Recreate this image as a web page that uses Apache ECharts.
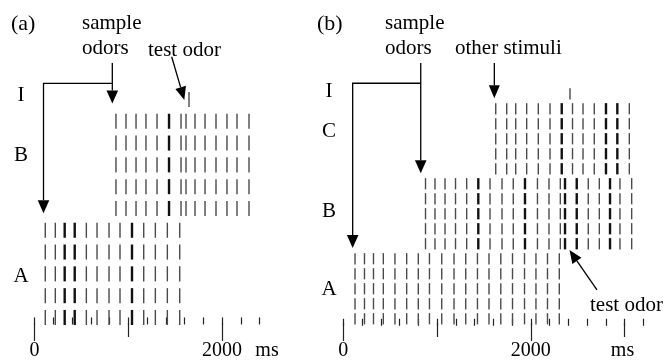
<!DOCTYPE html>
<html>
<head>
<meta charset="utf-8">
<script src="https://cdn.jsdelivr.net/npm/echarts@6/dist/echarts.min.js"></script>
<style>
html,body{margin:0;padding:0;background:#fff;}
#chart{width:665px;height:364px;}
</style>
</head>
<body>
<div id="chart"></div>
<script>
// ---------- DATA (spike times in ms, rows = trials) ----------
// Panel (a)
const aTimesA = [115, 222, 322, 429, 553, 667, 795, 912, 1040, 1165, 1289, 1417, 1549];
const aThickA = [322, 429, 1040];
const aRowsA  = [0, 1, 2, 3, 4];
const aTimesB = [869, 976, 1083, 1189, 1307, 1435, 1563, 1616, 1712, 1819, 1936, 2053, 2160, 2288];
const aThickB = [1435];
const aRowsB  = [5, 6, 7, 8, 9];
const aTimesI = [1648];
const aRowsI  = [10];
// Panel (b)
const bTimesA = [125, 226, 322, 427, 551, 676, 800, 919, 1050, 1181, 1306, 1431, 1554, 1680, 1805, 1933, 2055, 2178, 2304];
const bThickA = [];
const bRowsA  = [0, 1, 2, 3, 4];
const bTimesB = [877, 978, 1085, 1197, 1316, 1440, 1565, 1693, 1813, 1938, 2071, 2194, 2315, 2365, 2490, 2613, 2731, 2845, 2951, 3076];
const bThickB = [1440, 1938, 2365, 2490, 2845];
const bRowsB  = [5, 6, 7, 8, 9];
const bTimesC = [1626, 1743, 1839, 1956, 2080, 2205, 2330, 2445, 2557, 2677, 2802, 2923, 3051];
const bThickC = [2330, 2802, 2923];
const bRowsC  = [10, 11, 12, 13, 14];
const bTimesI = [2418];
const bRowsI  = [15];

// Axis ticks (ms)
const aMinorTicks = [0, 200, 400, 600, 800, 1000, 1200, 1400, 1600, 1800, 2000, 2200, 2400];
const aMidTicks   = [1000];
const aMajorTicks = [0, 2000];
const bMinorTicks = [0, 200, 400, 600, 800, 1000, 1200, 1400, 1600, 1800, 2000, 2200, 2400, 2600, 2800, 3000, 3200];
const bMidTicks   = [1000, 3000];
const bMajorTicks = [0, 2000];
const tickLabels  = [0, 2000];

// Block labels: [text, row position]
const aBlockLabels = [['I', 10.18], ['B', 7.43], ['A', 1.9]];
const bBlockLabels = [['I', 15.18], ['C', 12.48], ['B', 7.15], ['A', 1.92]];

// Annotation anchors in data coords [ms, row]
const aSample = {leftX: 96, rightX: 830, topRow: 11.67, cornerRow: 10.74, rightTipRow: 9.82, leftTipRow: 4.78};
const aTestTail = [1463, 11.96], aTestTip = [1598, 9.98];
const bSample = {leftX: 100, rightX: 826, topRow: 17.05, cornerRow: 15.7, rightTipRow: 9.70, leftTipRow: 4.72};
const bOtherTop = [1611, 17.05], bOtherTip = [1611, 14.70];
const bTestTail = [2706, 1.92], bTestTip = [2413, 4.58];

// ---------- build ----------
function build(blocks) {
  const out = [];
  blocks.forEach(([times, thick, rows]) => {
    rows.forEach(r => times.forEach(t => out.push([t, r, thick.indexOf(t) >= 0 ? 1 : 0])));
  });
  return out;
}
const dataA = build([[aTimesA, aThickA, aRowsA], [aTimesB, aThickB, aRowsB], [aTimesI, [], aRowsI]]);
const dataB = build([[bTimesA, bThickA, bRowsA], [bTimesB, bThickB, bRowsB], [bTimesC, bThickC, bRowsC], [bTimesI, [], bRowsI]]);

const FONT = '"Liberation Serif", "Times New Roman", serif';
function spikeRenderer(hRows) {
  return function (params, api) {
    const p = api.coord([api.value(0), api.value(1)]);
    const h = Math.abs(api.size([0, hRows])[1]);
    const thick = api.value(2) === 1;
    const w = thick ? 2.4 : 1.4;
    return {type: 'rect', shape: {x: p[0] - w / 2, y: p[1] - h / 2, width: w, height: h},
            style: {fill: thick ? '#111' : '#4a4a4a'}};
  };
}
function tickAxis(grid, max, values, len, offset, labels) {
  return {
    type: 'value', gridIndex: grid, position: 'bottom', min: 0, max: max, offset: offset,
    axisLine: {show: false}, splitLine: {show: false},
    axisTick: {show: true, customValues: values, length: len, lineStyle: {color: '#222', width: 1.2}},
    axisLabel: labels ? {show: true, customValues: labels, margin: 18, color: '#000', fontSize: 20, fontFamily: FONT,
                         formatter: v => String(v)}
                      : {show: false}
  };
}

const chart = echarts.init(document.getElementById('chart'), null, {renderer: 'canvas'});
chart.setOption({
  animation: false,
  backgroundColor: '#fff',
  textStyle: {fontFamily: FONT},
  grid: [
    {left: 34.5, top: 84.2, width: 225, height: 239.8},
    {left: 343.3, top: 84, width: 300, height: 240}
  ],
  xAxis: [
    tickAxis(0, 2400, aMinorTicks, 7, 1, null),
    tickAxis(0, 2400, aMidTicks, 14, -1, null),
    tickAxis(0, 2400, aMajorTicks, 18, -1, tickLabels),
    tickAxis(1, 3200, bMinorTicks, 7, 1, null),
    tickAxis(1, 3200, bMidTicks, 14, -1, null),
    tickAxis(1, 3200, bMajorTicks, 18, -1, tickLabels)
  ],
  yAxis: [
    {type: 'value', gridIndex: 0, min: -0.3, max: 10.7, show: false},
    {type: 'value', gridIndex: 1, min: -0.35, max: 15.65, show: false}
  ],
  series: [
    {type: 'custom', xAxisIndex: 0, yAxisIndex: 0, data: dataA, renderItem: spikeRenderer(0.69), clip: false},
    {type: 'custom', xAxisIndex: 3, yAxisIndex: 1, data: dataB, renderItem: spikeRenderer(0.75), clip: false}
  ]
});

// ---------- annotations ----------
const g = [];
const LW = 1.3;
function px(grid, pt) { return chart.convertToPixel({gridIndex: grid}, pt); }
function arrowHead(tail, tip, len, half) {
  const dx = tip[0] - tail[0], dy = tip[1] - tail[1];
  const L = Math.hypot(dx, dy), ux = dx / L, uy = dy / L;
  const bx = tip[0] - ux * len, by = tip[1] - uy * len;
  g.push({type: 'polygon', shape: {points: [tip, [bx - uy * half, by + ux * half], [bx + uy * half, by - ux * half]]},
          style: {fill: '#000'}});
  return [bx, by];
}
function line(pts) {
  g.push({type: 'polyline', shape: {points: pts}, style: {stroke: '#000', lineWidth: LW, fill: null}});
}
function arrow(grid, tailD, tipD) {
  const t = px(grid, tailD), p = px(grid, tipD);
  const b = arrowHead(t, p, 13, 5.5);
  line([t, b]);
}
function bracket(grid, s) {
  const rTop = px(grid, [s.rightX, s.topRow]);
  const rTip = px(grid, [s.rightX, s.rightTipRow]);
  const rCorner = px(grid, [s.rightX, s.cornerRow]);
  const lCorner = px(grid, [s.leftX, s.cornerRow]);
  const lTip = px(grid, [s.leftX, s.leftTipRow]);
  const rb = arrowHead(rTop, rTip, 13, 5.8);
  const lb = arrowHead(lCorner, lTip, 13, 5.8);
  line([rTop, rb]);
  line([lb, lCorner, rCorner]);
}
bracket(0, aSample);
arrow(0, aTestTail, aTestTip);
bracket(1, bSample);
arrow(1, bOtherTop, bOtherTip);
arrow(1, bTestTail, bTestTip);

// text placed by vertical middle
function text(str, x, y, align, size) {
  g.push({type: 'text', x: x, y: y, style: {text: str, fill: '#000', fontSize: size || 21, fontFamily: FONT,
          textAlign: align || 'left', textVerticalAlign: 'middle'}});
}
text('(a)', 11, 24, 'left', 22);
text('(b)', 317, 24, 'left', 22);
text('sample', 82, 23);
text('odors', 82, 48);
text('test odor', 148, 50);
text('sample', 385, 23);
text('odors', 385, 48);
text('other stimuli', 455, 48);
text('test odor', 590, 305);
text('ms', 267, 351, 'center', 20);
text('ms', 622.5, 351, 'center', 20);
// block labels, positioned by row
aBlockLabels.forEach(([s, r]) => { const p = px(0, [0, r]); text(s, 21, p[1], 'center'); });
bBlockLabels.forEach(([s, r]) => { const p = px(1, [0, r]); text(s, 329, p[1], 'center'); });

chart.setOption({graphic: g});
</script>
</body>
</html>
